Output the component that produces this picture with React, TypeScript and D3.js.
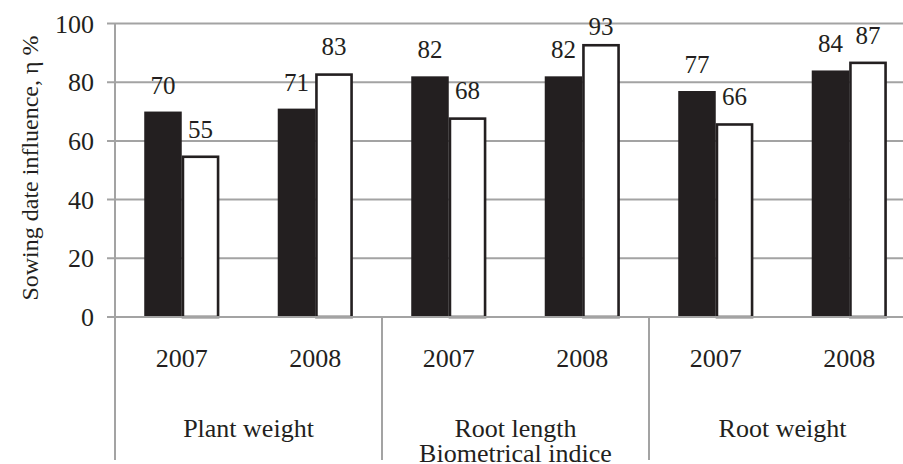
import React from "react";
import * as d3 from "d3";

const groups = ["Plant weight", "Root length", "Root weight"];
const years = ["2007", "2008"];
const seriesA = [70, 71, 82, 82, 77, 84]; // black
const seriesB = [55, 83, 68, 93, 66, 87]; // white
const yTicks = [0, 20, 40, 60, 80, 100];
const yTitle = "Sowing date influence, η %";
const xTitle = "Biometrical indice";

const W = 903;
const H = 464;
const left = 115;
const right = 916;
const top = 23.5;
const bottom = 317;
const ink = "#231f20";
const grid = "#a3a3a3";
const font = "'Liberation Serif', 'Times New Roman', serif";

export default function App() {
  const cats = groups.flatMap((g) => years.map((y) => `${g}|${y}`));
  const x = d3.scaleBand<string>().domain(cats).range([left, right]).paddingInner(0.438).paddingOuter(0.219);
  const xg = d3.scaleBand<string>().domain(groups).range([left, right]);
  const sub = d3.scaleBand<string>().domain(["a", "b"]).range([0, x.bandwidth()]);
  const y = d3.scaleLinear().domain([0, 100]).range([bottom, top]);
  const step = x.step();

  return (
    <svg width={W} height={H} style={{ position: "absolute", left: 0, top: 0, background: "#fff" }}>
      <rect width={W} height={H} fill="#fff" />
      {yTicks.map((t) => (
        <g key={t}>
          <line x1={107} x2={right} y1={y(t)} y2={y(t)} stroke={grid} strokeWidth={2} />
          <text x={94} y={y(t)} dy="0.35em" textAnchor="end" fontFamily={font} fontSize={26} fill={ink}>
            {t}
          </text>
        </g>
      ))}
      {cats.map((c, i) => {
        const x0 = x(c)!;
        const vb = seriesB[i];
        const va = seriesA[i];
        return (
          <g key={c}>
            <rect x={x0 + sub("a")!} y={y(va)} width={sub.bandwidth()} height={bottom - y(va)} fill={ink} />
            <rect
              x={x0 + sub("b")! + 1.2}
              y={y(vb) + 1.2}
              width={sub.bandwidth() - 2.4}
              height={bottom - y(vb) - 1.2}
              fill="#fff"
              stroke={ink}
              strokeWidth={2.6}
            />
          </g>
        );
      })}
      <line x1={left} x2={right} y1={bottom} y2={bottom} stroke={grid} strokeWidth={2} />
      <line x1={left} x2={left} y1={top} y2={460} stroke={grid} strokeWidth={2} />
      {groups.slice(1).map((g) => (
        <line key={g} x1={xg(g)!} x2={xg(g)!} y1={bottom} y2={460} stroke={grid} strokeWidth={2} />
      ))}
      {cats.map((c, i) => {
        const x0 = x(c)!;
        const ca = x0 + sub("a")! + sub.bandwidth() / 2;
        const cb = x0 + sub("b")! + sub.bandwidth() / 2;
        const ya = Math.max(y(seriesA[i]) - 18, 35);
        const yb = Math.max(y(seriesB[i]) - 18, 35);
        return (
          <g key={c} fontFamily={font} fontSize={25} fill={ink} textAnchor="middle">
            <text x={ca} y={ya}>{seriesA[i]}</text>
            <text x={cb} y={yb}>{seriesB[i]}</text>
            <text x={x0 + x.bandwidth() / 2} y={367} fontSize={26}>
              {c.split("|")[1]}
            </text>
          </g>
        );
      })}
      {groups.map((g) => (
        <text key={g} x={xg(g)! + xg.bandwidth() / 2} y={437} textAnchor="middle" fontFamily={font} fontSize={26} fill={ink}>
          {g}
        </text>
      ))}
      <text x={(left + right) / 2} y={462} textAnchor="middle" fontFamily={font} fontSize={26} fill={ink}>
        {xTitle}
      </text>
      <text
        transform={`translate(38, 168) rotate(-90)`}
        textAnchor="middle"
        fontFamily={font}
        fontSize={24}
        fill={ink}
      >
        {yTitle}
      </text>
    </svg>
  );
}
